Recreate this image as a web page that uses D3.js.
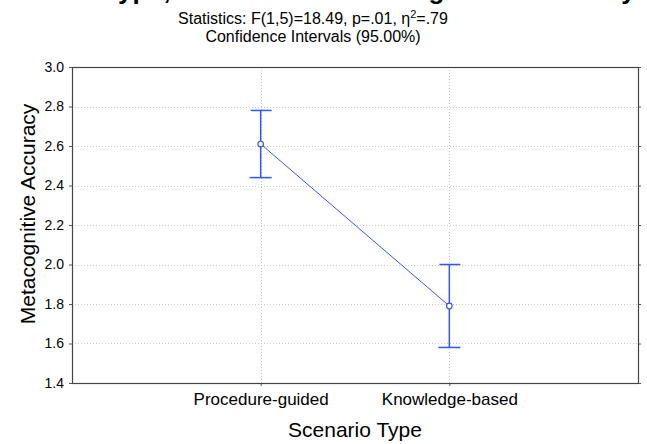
<!DOCTYPE html>
<html>
<head>
<meta charset="utf-8">
<script src="https://cdn.jsdelivr.net/npm/d3@7"></script>
<style>
  body { margin: 0; background: #fff; }
  svg text { font-family: "Liberation Sans", Arial, sans-serif; fill: #000; }
</style>
</head>
<body>
<div id="chart"></div>
<script>
/* global d3 */

// data
var categories = ["Procedure-guided", "Knowledge-based"];
var means = [2.61, 1.79];
var ciLower = [2.44, 1.58];
var ciUpper = [2.78, 2.0];
var yTicks = [1.4, 1.6, 1.8, 2.0, 2.2, 2.4, 2.6, 2.8, 3.0];

var titleText = "Scenario Type; LS Means of Metacognitive Accuracy";
var statsText = "Statistics: F(1,5)=18.49, p=.01, \u03b7";
var statsTail = "=.79";
var ciText = "Confidence Intervals (95.00%)";
var xTitle = "Scenario Type";
var yTitle = "Metacognitive Accuracy";

var width = 647;
var height = 444;
var margin = { top: 67, right: 9, bottom: 61, left: 72 };
var lineColor = "#3355ff";

var svg = d3
  .select("#chart")
  .append("svg")
  .attr("width", width)
  .attr("height", height);

var plotW = width - margin.left - margin.right;
var plotH = height - margin.top - margin.bottom;

var x = d3
  .scalePoint()
  .domain(categories)
  .range([0, plotW])
  .padding(1);

var y = d3
  .scaleLinear()
  .domain([1.4, 3.0])
  .range([plotH, 0]);

var g = svg
  .append("g")
  .attr("transform", "translate(" + margin.left + "," + margin.top + ")");

// titles (main title is cut off at the top, only descenders show)
svg
  .append("text")
  .text(titleText)
  .attr("x", -13)
  .attr("y", -1)
  .style("font-size", "26px")
  .style("font-weight", "bold");

var stats = svg
  .append("text")
  .attr("x", 313)
  .attr("y", 24)
  .attr("text-anchor", "middle")
  .style("font-size", "16px");
stats.append("tspan").text(statsText);
stats
  .append("tspan")
  .text("2")
  .attr("dy", -6)
  .style("font-size", "11px");
stats
  .append("tspan")
  .text(statsTail)
  .attr("dy", 6);

svg
  .append("text")
  .text(ciText)
  .attr("x", 313)
  .attr("y", 42)
  .attr("text-anchor", "middle")
  .style("font-size", "16px");

// grid
g.selectAll(".hgrid")
  .data(yTicks.slice(1, -1))
  .enter()
  .append("line")
  .attr("class", "hgrid")
  .attr("x1", 0)
  .attr("x2", plotW)
  .attr("y1", function(d) { return Math.round(y(d)) + 0.5; })
  .attr("y2", function(d) { return Math.round(y(d)) + 0.5; })
  .style("stroke", "#c8c8c8")
  .style("stroke-dasharray", "1,2");

g.selectAll(".vgrid")
  .data(categories)
  .enter()
  .append("line")
  .attr("class", "vgrid")
  .attr("x1", function(d) { return Math.round(x(d)) + 0.5; })
  .attr("x2", function(d) { return Math.round(x(d)) + 0.5; })
  .attr("y1", 0)
  .attr("y2", plotH)
  .style("stroke", "#c8c8c8")
  .style("stroke-dasharray", "1,2");

// axes
var yAxis = d3
  .axisLeft(y)
  .tickValues(yTicks)
  .tickSize(3)
  .tickFormat(d3.format(".1f"));

var yAxisG = g.append("g").call(yAxis);
yAxisG.select(".domain").remove();
yAxisG.selectAll("line").style("stroke", "#555");
yAxisG
  .selectAll("text")
  .attr("x", -8)
  .style("font-size", "14px")
  .style("font-family", "'Liberation Sans', Arial, sans-serif");

var yAxisR = g
  .append("g")
  .attr("transform", "translate(" + plotW + ",0)")
  .call(d3.axisRight(y).tickValues(yTicks).tickSize(3).tickFormat(""));
yAxisR.select(".domain").remove();
yAxisR.selectAll("line").style("stroke", "#555");

var xAxisG = g
  .append("g")
  .attr("transform", "translate(0," + plotH + ")")
  .call(d3.axisBottom(x).tickSize(3));
xAxisG.select(".domain").remove();
xAxisG.selectAll("line").style("stroke", "#555");
xAxisG
  .selectAll("text")
  .attr("y", 10)
  .style("font-size", "17px")
  .style("font-family", "'Liberation Sans', Arial, sans-serif");

// frame
g.append("rect")
  .attr("x", 0.5)
  .attr("y", 0.5)
  .attr("width", plotW)
  .attr("height", plotH)
  .style("fill", "none")
  .style("stroke", "#444")
  .style("stroke-width", 1.2);

svg
  .append("text")
  .text(xTitle)
  .attr("x", margin.left + plotW / 2 - 0)
  .attr("y", 437)
  .attr("text-anchor", "middle")
  .style("font-size", "21px");

svg
  .append("text")
  .text(yTitle)
  .attr("transform", "translate(35,214) rotate(-90)")
  .attr("text-anchor", "middle")
  .style("font-size", "21px");

// mean line, error bars, points
var line = d3
  .line()
  .x(function(d, i) { return x(categories[i]); })
  .y(function(d) { return y(d); });

g.append("path")
  .datum(means)
  .attr("d", line)
  .style("fill", "none")
  .style("stroke", lineColor)
  .style("stroke-width", 1);

var bars = g
  .selectAll(".ci")
  .data(categories)
  .enter()
  .append("g")
  .attr("class", "ci")
  .style("stroke", lineColor)
  .style("stroke-width", 1.5);

bars
  .append("line")
  .attr("x1", function(d) { return x(d); })
  .attr("x2", function(d) { return x(d); })
  .attr("y1", function(d, i) { return y(ciLower[i]); })
  .attr("y2", function(d, i) { return y(ciUpper[i]); });

bars
  .append("line")
  .attr("x1", function(d) { return x(d) - 10; })
  .attr("x2", function(d) { return x(d) + 11; })
  .attr("y1", function(d, i) { return y(ciUpper[i]); })
  .attr("y2", function(d, i) { return y(ciUpper[i]); });

bars
  .append("line")
  .attr("x1", function(d) { return x(d) - 11; })
  .attr("x2", function(d) { return x(d) + 11; })
  .attr("y1", function(d, i) { return y(ciLower[i]); })
  .attr("y2", function(d, i) { return y(ciLower[i]); });

g.selectAll(".pt")
  .data(means)
  .enter()
  .append("circle")
  .attr("class", "pt")
  .attr("cx", function(d, i) { return x(categories[i]); })
  .attr("cy", function(d) { return y(d); })
  .attr("r", 2.8)
  .style("fill", "#fff")
  .style("stroke", lineColor)
  .style("stroke-width", 1.2);
</script>
</body>
</html>
